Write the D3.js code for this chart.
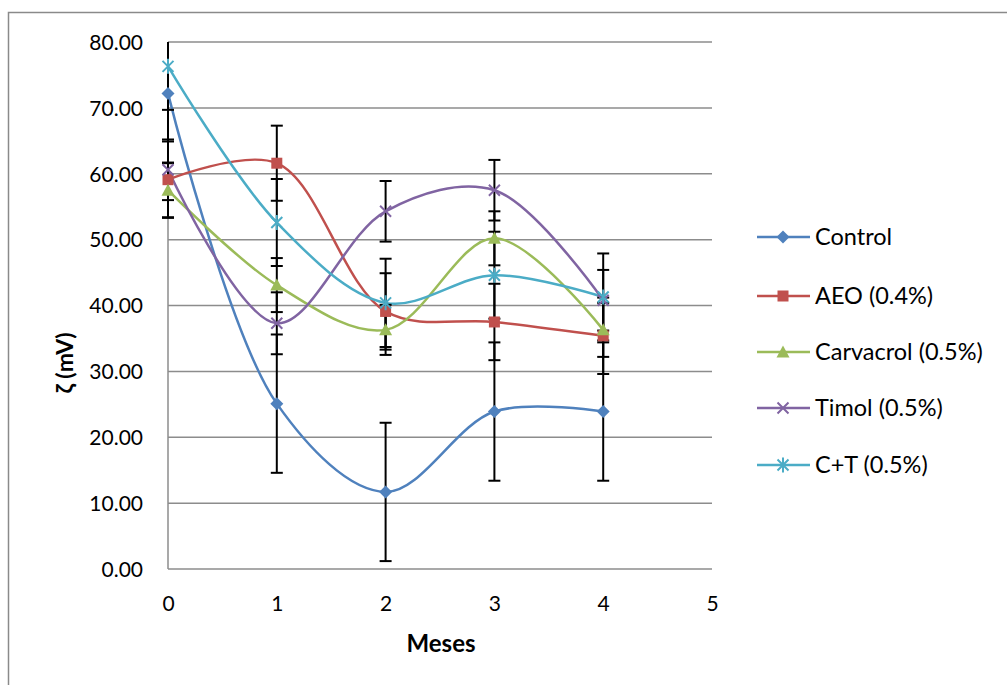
<!DOCTYPE html>
<html><head><meta charset="utf-8">
<script src="https://cdn.jsdelivr.net/npm/d3@7"></script>
<style>body{margin:0;background:#fff}svg{display:block}text{font-family:Lato,"Open Sans",sans-serif;}</style>
</head><body><svg id="c" width="1007" height="685"></svg>
<script>
const months = [0, 1, 2, 3, 4];
const seriesNames = ["Control", "AEO (0.4%)", "Carvacrol (0.5%)", "Timol (0.5%)", "C+T (0.5%)"];
const control = [72.2, 25.1, 11.7, 23.9, 23.9];
const aeo = [59.1, 61.6, 39.1, 37.5, 35.4];
const carvacrol = [57.5, 43.1, 36.3, 50.2, 36.3];
const timol = [60.6, 37.3, 54.3, 57.5, 40.8];
const ct = [76.3, 52.6, 40.4, 44.6, 41.3];
const errControl = [10.5, 10.5, 10.5, 10.5, 10.5];
const errAeo = [5.8, 5.7, 5.8, 5.8, 5.8];
const errCarvacrol = [4.1, 4.1, 3.8, 4.1, 4.1];
const errTimol = [4.6, 4.7, 4.6, 4.6, 4.6];
const errCt = [6.6, 6.6, 6.7, 6.6, 6.6];
const yTicks = [0, 10, 20, 30, 40, 50, 60, 70, 80];
const xTicks = [0, 1, 2, 3, 4, 5];
const colors = ["#4F81BD", "#C0504D", "#9BBB59", "#8064A2", "#4BACC6"];
const markers = ["diamond", "square", "triangle", "x", "star"];

const values = [control, aeo, carvacrol, timol, ct];
const errs = [errControl, errAeo, errCarvacrol, errTimol, errCt];

const svg = d3.select("#c");
const x = d3.scaleLinear().domain([0, 5]).range([168, 712]);
const y = d3.scaleLinear().domain([0, 80]).range([569, 42]);

// outer chart border
svg.append("rect").attr("x", 8.5).attr("y", 12.5).attr("width", 1040).attr("height", 700)
  .attr("fill", "none").attr("stroke", "#8a8a8a").attr("stroke-width", 1.5);

// gridlines
svg.append("g").selectAll("line").data(yTicks).join("line")
  .attr("x1", x(0)).attr("x2", x(5)).attr("y1", d => y(d)).attr("y2", d => y(d))
  .attr("stroke", "#8c8c8c").attr("stroke-width", 1.5);
// y axis line
svg.append("line").attr("x1", x(0)).attr("x2", x(0)).attr("y1", y(0)).attr("y2", y(80))
  .attr("stroke", "#8c8c8c").attr("stroke-width", 1.5);

// y tick labels
const yAxis = d3.axisLeft(y).tickValues(yTicks).tickFormat(d3.format(".2f")).tickSize(0).tickPadding(25);
const gy = svg.append("g").attr("transform", `translate(${x(0)},0)`).call(yAxis);
gy.select(".domain").remove();
gy.selectAll("text").attr("font-size", 21).attr("fill", "#000").attr("font-family", "Lato").attr("dy", "0.35em");

const xAxis = d3.axisBottom(x).tickValues(xTicks).tickFormat(d3.format("d")).tickSize(0).tickPadding(27);
const gx = svg.append("g").attr("transform", `translate(0,${y(0)})`).call(xAxis);
gx.select(".domain").remove();
gx.selectAll("text").attr("font-size", 21).attr("fill", "#000").attr("font-family", "Lato");

// axis titles
svg.append("text").attr("x", 441).attr("y", 652).attr("text-anchor", "middle")
  .attr("font-size", 24).attr("font-weight", "bold").text("Meses");
svg.append("text").attr("transform", `translate(73,${363}) rotate(-90)`).attr("text-anchor", "middle")
  .attr("font-size", 23).attr("font-weight", "bold").text("ζ (mV)");

svg.append("clipPath").attr("id", "clip").append("rect")
  .attr("x", 100).attr("y", y(80)).attr("width", 700).attr("height", y(0) - y(80));

const line = d3.line().x((d, i) => x(months[i])).y(d => y(d)).curve(d3.curveCatmullRom.alpha(0.5));
const plot = svg.append("g");

values.forEach((vals, s) => {
  plot.append("path").attr("d", line(vals)).attr("fill", "none")
    .attr("stroke", colors[s]).attr("stroke-width", 2.5).attr("stroke-linejoin", "round");
});

// error bars
const eb = svg.append("g").attr("clip-path", "url(#clip)").attr("stroke", "#000").attr("stroke-width", 2);
values.forEach((vals, s) => {
  vals.forEach((v, i) => {
    const e = errs[s][i], cx = x(months[i]);
    eb.append("line").attr("x1", cx).attr("x2", cx).attr("y1", y(v + e)).attr("y2", y(v - e));
    [v + e, v - e].forEach(t => eb.append("line").attr("x1", cx - 6).attr("x2", cx + 6).attr("y1", y(t)).attr("y2", y(t)));
  });
});

function drawMarker(g, type, cx, cy, color) {
  if (type === "diamond") {
    g.append("path").attr("d", `M${cx},${cy - 6.5}L${cx + 6.5},${cy}L${cx},${cy + 6.5}L${cx - 6.5},${cy}Z`).attr("fill", color);
  } else if (type === "square") {
    g.append("rect").attr("x", cx - 5.5).attr("y", cy - 5.5).attr("width", 11).attr("height", 11).attr("fill", color);
  } else if (type === "triangle") {
    g.append("path").attr("d", `M${cx},${cy - 6.5}L${cx + 6.5},${cy + 5.5}L${cx - 6.5},${cy + 5.5}Z`).attr("fill", color);
  } else if (type === "x") {
    g.append("path").attr("d", `M${cx - 5.5},${cy - 5.5}L${cx + 5.5},${cy + 5.5}M${cx - 5.5},${cy + 5.5}L${cx + 5.5},${cy - 5.5}`)
      .attr("stroke", color).attr("stroke-width", 2);
  } else if (type === "star") {
    g.append("path").attr("d", `M${cx - 5.5},${cy - 5.5}L${cx + 5.5},${cy + 5.5}M${cx - 5.5},${cy + 5.5}L${cx + 5.5},${cy - 5.5}M${cx},${cy - 7.5}L${cx},${cy + 7.5}`)
      .attr("stroke", color).attr("stroke-width", 2);
  }
}
const mk = svg.append("g");
values.forEach((vals, s) => {
  vals.forEach((v, i) => drawMarker(mk, markers[s], x(months[i]), y(v), colors[s]));
});

// legend
const legY = [237, 296, 352, 408, 465];
const lg = svg.append("g");
seriesNames.forEach((name, s) => {
  const ly = legY[s];
  lg.append("line").attr("x1", 757).attr("x2", 810).attr("y1", ly).attr("y2", ly)
    .attr("stroke", colors[s]).attr("stroke-width", 2.5);
  drawMarker(lg, markers[s], 783, ly, colors[s]);
  lg.append("text").attr("x", 815).attr("y", ly).attr("dy", "0.35em").attr("font-size", 23.5).text(name);
});
</script></body></html>
